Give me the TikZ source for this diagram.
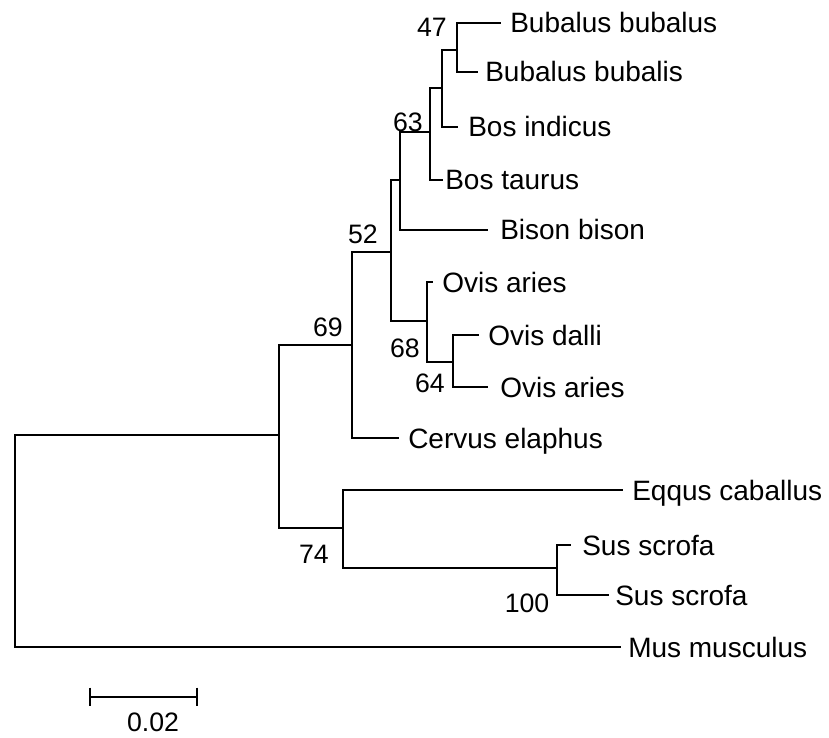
\documentclass[tikz,border=0pt]{standalone}
\usepackage{fontspec}
\setmainfont{Liberation Sans}
\begin{document}
\begin{tikzpicture}[x=0.75pt,y=-0.75pt,
  branch/.style={line width=1.8pt,line cap=rect,line join=miter},
  taxon/.style={anchor=base west,inner sep=0pt,yshift=-7.5pt,font=\fontsize{21pt}{25pt}\selectfont},
  support/.style={anchor=center,inner sep=0pt,font=\fontsize{20pt}{24pt}\selectfont}]
\useasboundingbox (0,0) rectangle (829,738);

% internal nodes (x of the split, y of the incoming branch)
\coordinate (root) at (15,541);
\coordinate (nC)   at (279,435);
\coordinate (n69)  at (352,345);
\coordinate (n52)  at (391,252);
\coordinate (nB)   at (400,180);
\coordinate (n63)  at (430,132);
\coordinate (nA)   at (442,88);
\coordinate (n47)  at (457,50);
\coordinate (n68)  at (427,321);
\coordinate (n64)  at (453,362);
\coordinate (n74)  at (343,528);
\coordinate (nS)   at (557,568);

% branch tips
\coordinate (tBb1) at (500,23);
\coordinate (tBb2) at (477,72);
\coordinate (tBi)  at (457,127);
\coordinate (tBt)  at (442,180);
\coordinate (tBis) at (487,230);
\coordinate (tOa1) at (432,282);
\coordinate (tOd)  at (478,335);
\coordinate (tOa2) at (487,387);
\coordinate (tCe)  at (398,438);
\coordinate (tEq)  at (622,490);
\coordinate (tSs1) at (570,545);
\coordinate (tSs2) at (608,595);
\coordinate (tMm)  at (620,647);

% taxon names
\node[taxon] (Bb1) at (510,23)  {Bubalus bubalus};
\node[taxon] (Bb2) at (485,72)  {Bubalus bubalis};
\node[taxon] (Bi)  at (468,127) {Bos indicus};
\node[taxon] (Bt)  at (445,180) {Bos taurus};
\node[taxon] (Bis) at (500,230) {Bison bison};
\node[taxon] (Oa1) at (442,282) {Ovis aries};
\node[taxon] (Od)  at (488,335) {Ovis dalli};
\node[taxon] (Oa2) at (500,387) {Ovis aries};
\node[taxon] (Ce)  at (408,438) {Cervus elaphus};
\node[taxon] (Eq)  at (632,490) {Eqqus caballus};
\node[taxon] (Ss1) at (582,545) {Sus scrofa};
\node[taxon] (Ss2) at (615,595) {Sus scrofa};
\node[taxon] (Mm)  at (628,647) {Mus musculus};

% tree branches
\draw[branch] (root) |- (nC);
\draw[branch] (root) |- (tMm);
\draw[branch] (nC) |- (n69);
\draw[branch] (nC) |- (n74);
\draw[branch] (n69) |- (n52);
\draw[branch] (n69) |- (tCe);
\draw[branch] (n52) |- (nB);
\draw[branch] (n52) |- (n68);
\draw[branch] (nB) |- (n63);
\draw[branch] (nB) |- (tBis);
\draw[branch] (n63) |- (nA);
\draw[branch] (n63) |- (tBt);
\draw[branch] (nA) |- (n47);
\draw[branch] (nA) |- (tBi);
\draw[branch] (n47) |- (tBb1);
\draw[branch] (n47) |- (tBb2);
\draw[branch] (n68) |- (tOa1);
\draw[branch] (n68) |- (n64);
\draw[branch] (n64) |- (tOd);
\draw[branch] (n64) |- (tOa2);
\draw[branch] (n74) |- (tEq);
\draw[branch] (n74) |- (nS);
\draw[branch] (nS) |- (tSs1);
\draw[branch] (nS) |- (tSs2);

% bootstrap values
\node[support] (b47)  at (432,27)  {47};
\node[support] (b63)  at (408,122) {63};
\node[support] (b52)  at (363,234) {52};
\node[support] (b69)  at (328,327) {69};
\node[support] (b68)  at (405,348) {68};
\node[support] (b64)  at (430,383) {64};
\node[support] (b74)  at (314,554) {74};
\node[support] (b100) at (527,603) {100};

% scale bar
\coordinate (sL) at (90,697);
\coordinate (sR) at (197,697);
\draw[branch,line cap=butt] (sL) -- (sR);
\draw[branch,line cap=butt] ([yshift=7pt]sL) -- ([yshift=-7pt]sL);
\draw[branch,line cap=butt] ([yshift=7pt]sR) -- ([yshift=-7pt]sR);
\node[support] (scale) at (153,722) {0.02};
\end{tikzpicture}
\end{document}
